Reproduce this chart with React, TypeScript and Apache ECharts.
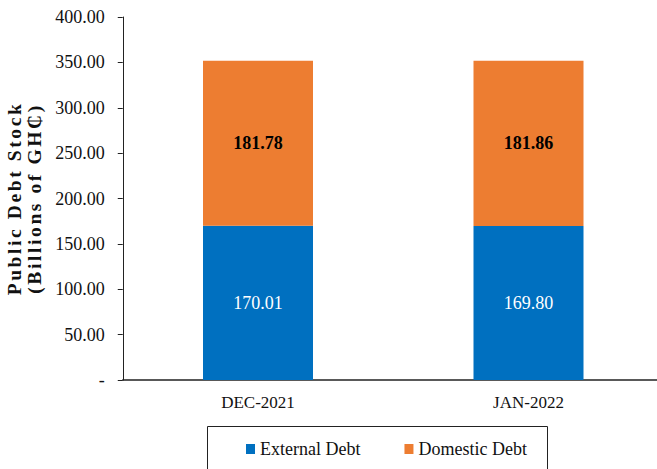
import React, { useEffect, useRef } from "react";
import * as echarts from "echarts";

const categories = ["DEC-2021", "JAN-2022"];
const externalDebt = [170.01, 169.8];
const domesticDebt = [181.78, 181.86];
const seriesNames = ["External Debt", "Domestic Debt"];
const yTitleLines = ["Public Debt Stock", "(Billions of GH₵)"];

const FONT = "'Liberation Serif', 'Times New Roman', serif";

export default function App() {
  const ref = useRef<HTMLDivElement>(null);
  useEffect(() => {
    document.body.style.margin = "0";
    const chart = echarts.init(ref.current!, null, { renderer: "svg" });
    chart.setOption({
      animation: false,
      textStyle: { fontFamily: FONT },
      grid: { left: 122.75, right: -6.75, top: 17, bottom: 89, outerBoundsMode: "none" },
      xAxis: {
        type: "category",
        data: categories,
        axisLine: { lineStyle: { color: "#222", width: 1.5 } },
        axisTick: { show: false },
        axisLabel: { color: "#111", fontSize: 17, fontFamily: FONT, margin: 14 },
      },
      yAxis: {
        type: "value",
        min: 0,
        max: 400,
        interval: 50,
        name: yTitleLines.join("\n"),
        nameLocation: "middle",
        nameRotate: 90,
        nameGap: 76,
        nameTextStyle: {
          fontFamily: FONT,
          fontWeight: "bold",
          fontSize: 19.5,
          lineHeight: 19.5,
          color: "#111",
        },
        splitLine: { show: false },
        axisLine: { show: true, lineStyle: { color: "#222", width: 1 } },
        axisTick: { show: true, length: 5, lineStyle: { color: "#222" } },
        axisLabel: {
          color: "#111",
          fontSize: 18,
          fontFamily: FONT,
          margin: 18,
          formatter: (v: number) => (v === 0 ? "-" : v.toFixed(2)),
        },
      },
      legend: {
        data: seriesNames,
        left: 246,
        top: 440,
        padding: 0,
        itemWidth: 9,
        itemHeight: 10,
        itemGap: 44,
        icon: "rect",
        textStyle: { fontFamily: FONT, fontSize: 18, color: "#111" },
      },
      graphic: [
        {
          type: "rect",
          shape: { x: 207.5, y: 426.5, width: 340, height: 60 },
          style: { fill: "none", stroke: "#222", lineWidth: 1 },
          silent: true,
        },
      ],
      series: [
        {
          name: seriesNames[0],
          type: "bar",
          stack: "debt",
          barWidth: 110,
          data: externalDebt,
          itemStyle: { color: "#0070C0" },
          label: {
            show: true,
            position: "inside",
            color: "#fff",
            fontFamily: FONT,
            fontSize: 18,
            formatter: (p: any) => p.value.toFixed(2),
          },
        },
        {
          name: seriesNames[1],
          type: "bar",
          stack: "debt",
          barWidth: 110,
          data: domesticDebt,
          itemStyle: { color: "#ED7D31" },
          label: {
            show: true,
            position: "inside",
            color: "#000",
            fontWeight: "bold",
            fontFamily: FONT,
            fontSize: 18,
            formatter: (p: any) => p.value.toFixed(2),
          },
        },
      ],
    });
    // widen the letter spacing of the axis title, as in the reference
    const texts = ref.current!.querySelectorAll("text");
    texts.forEach((t) => {
      const s = t.textContent || "";
      if (yTitleLines.some((l) => s.indexOf(l) >= 0)) {
        (t as SVGTextElement).style.letterSpacing = "2.6px";
      }
    });
    return () => chart.dispose();
  }, []);
  return <div ref={ref} style={{ width: 657, height: 469 }} />;
}
